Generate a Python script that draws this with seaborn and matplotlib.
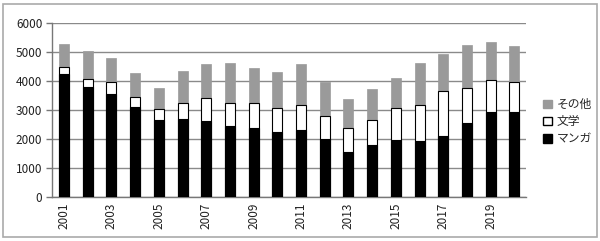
import matplotlib
matplotlib.use("Agg")
import matplotlib.pyplot as plt
import seaborn as sns
import numpy as np
import pandas as pd
from matplotlib.patches import Rectangle, Patch

years = list(range(2001, 2021))
manga = [4230, 3770, 3560, 3100, 2640, 2690, 2620, 2440, 2360, 2240,
         2300, 2010, 1550, 1780, 1950, 1940, 2090, 2550, 2940, 2910]
bungaku = [250, 300, 380, 340, 400, 560, 770, 810, 860, 830,
           850, 770, 820, 870, 1100, 1210, 1540, 1200, 1090, 1050]
other = [780, 960, 830, 840, 710, 1090, 1180, 1370, 1210, 1240,
         1410, 1180, 1010, 1080, 1050, 1450, 1290, 1490, 1290, 1220]
labels = ["その他", "文学", "マンガ"]

sns.set_theme(style="white")
plt.rcParams['font.family'] = ['Noto Sans CJK JP', 'DejaVu Sans']

df = pd.DataFrame({"year": [str(y) for y in years],
                   "manga": manga, "bungaku": bungaku, "other": other})
df["mb"] = df["manga"] + df["bungaku"]
df["total"] = df["mb"] + df["other"]

fig = plt.figure(figsize=(6.0, 2.41), dpi=100)
ax = fig.add_axes([0.087, 0.183, 0.79, 0.723])

grey = "#9a9a9a"
sns.barplot(data=df, x="year", y="total", color=grey, width=0.42,
            saturation=1, edgecolor=grey, linewidth=0.5, ax=ax, zorder=3)
sns.barplot(data=df, x="year", y="mb", color="white", width=0.42,
            saturation=1, edgecolor="black", linewidth=0.8, ax=ax, zorder=3)
sns.barplot(data=df, x="year", y="manga", color="black", width=0.42,
            saturation=1, edgecolor="black", linewidth=0.8, ax=ax, zorder=3)

ax.set_xlim(-0.5, len(years) - 0.5)
ax.set_ylim(0, 6000)
ax.set_yticks(range(0, 6001, 1000))
ax.yaxis.grid(True, color="#8a8a8a", linewidth=1.0, zorder=0)
ax.set_axisbelow(True)
ax.set_xlabel("")
ax.set_ylabel("")

ax.set_xticks(range(0, len(years), 2))
ax.set_xticklabels([str(y) for y in years[::2]], rotation=90, fontsize=8.5,
                   color="#222222")
ax.set_xticks(np.arange(-0.5, len(years), 1.0), minor=True)
ax.tick_params(axis="x", which="major", length=0, pad=4)
ax.tick_params(axis="x", which="minor", length=4, color="#777777", width=1)
ax.tick_params(axis="y", length=4, color="#777777", width=1, labelsize=8.5,
               labelcolor="#222222", pad=3, left=True)

for s in ["top", "right"]:
    ax.spines[s].set_visible(False)
for s in ["left", "bottom"]:
    ax.spines[s].set_color("#777777")
    ax.spines[s].set_linewidth(1.0)

handles = [Patch(facecolor=grey, edgecolor=grey),
           Patch(facecolor="white", edgecolor="black", linewidth=1.0),
           Patch(facecolor="black", edgecolor="black")]
fig.legend(handles, labels, loc="center left", bbox_to_anchor=(0.895, 0.495),
           frameon=False, fontsize=8.5, handlelength=0.75, handleheight=0.75,
           handletextpad=0.4, labelspacing=0.35, borderpad=0)

fig.patches.append(Rectangle((0.005, 0.015), 0.99, 0.97, transform=fig.transFigure,
                             fill=False, edgecolor="#aaaaaa", linewidth=1.2))

fig.savefig("out.png", dpi=100)
